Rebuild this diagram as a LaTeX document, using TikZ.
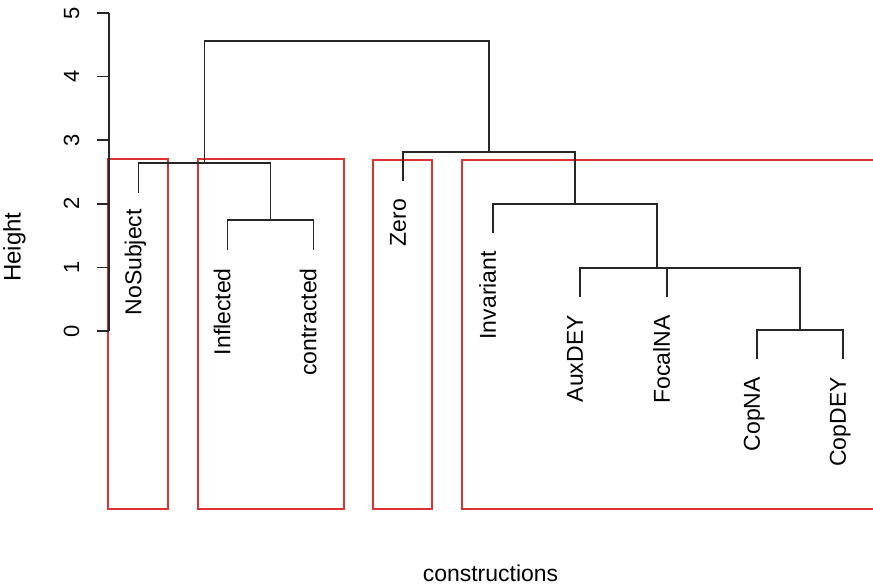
\documentclass[tikz,border=0pt]{standalone}
\usepackage{fontspec}
\setmainfont{Liberation Sans}
\begin{document}
\begin{tikzpicture}[x=1pt,y=-1pt,
  dend/.style={draw=black!85, line width=1.5pt},
  redbox/.style={draw={rgb,255:red,222;green,50;blue,50}, line width=1.5pt},
  leaflab/.style={rotate=90, anchor=east, inner sep=0pt, font=\fontsize{23}{23}\selectfont, text height=1.55ex, text depth=0.45ex},
  ticklab/.style={rotate=90, anchor=base, inner sep=0pt, font=\fontsize{22}{22}\selectfont},
  axlab/.style={inner sep=0pt, font=\fontsize{23}{23}\selectfont}]
\useasboundingbox (0,0) rectangle (873,587);
% red boxes
\draw[redbox] (108,159) rectangle (168,509);
\draw[redbox] (198,159) rectangle (344,509);
\draw[redbox] (373,160) rectangle (432,509);
\draw[redbox] (874,160) -- (462,160) -- (462,509) -- (874,509);
% axis
\draw[dend] (109,13) -- (109,331);
\foreach \h/\y in {0/331,1/267.4,2/203.8,3/140.2,4/76.6,5/13}{
  \draw[dend] (97,\y) -- (109,\y);
  \node[ticklab] (t\h) at (79,\y) {\h};
}
\node[axlab, rotate=90, anchor=base, font=\fontsize{24}{24}\selectfont] (ylab) at (20.5,247) {Height};
\node[axlab, anchor=base] (xlab) at (490.5,581) {constructions};
% leaves
\coordinate (lNo) at (138.5,193);
\coordinate (lInf) at (227.5,250);
\coordinate (lCon) at (313.5,250);
\coordinate (lZero) at (403,181);
\coordinate (lInv) at (493,233);
\coordinate (lAux) at (580,297);
\coordinate (lFoc) at (667,297);
\coordinate (lCNA) at (757,359);
\coordinate (lCDEY) at (843,359);
% merges
\coordinate (m1) at (270.5,220);
\coordinate (m2) at (204.5,163);
\coordinate (m3) at (800,330);
\coordinate (m3b) at (733.5,268);
\coordinate (m4) at (656.75,268);
\coordinate (m5) at (574.9,204);
\coordinate (m6) at (489,152);
\coordinate (m7) at (346.75,41);
\draw[dend] (lInf) |- (m1) -| (lCon);
\draw[dend] (lNo) |- (m2) -| (m1);
\draw[dend] (lCNA) |- (m3) -| (lCDEY);
\draw[dend] (lFoc) |- (m3b) -| (m3);
\draw[dend] (lAux) |- (m4) -| (m3b);
\draw[dend] (lInv) |- (m5) -| (m4);
\draw[dend] (lZero) |- (m6) -| (m5);
\draw[dend] (m2) |- (m7) -| (m6);
% leaf labels
\node[leaflab] (nNo) at ([yshift=-16pt]lNo) {NoSubject};
\node[leaflab] (nInf) at ([yshift=-18pt]lInf) {Inflected};
\node[leaflab] (nCon) at ([yshift=-18pt]lCon) {contracted};
\node[leaflab] (nZero) at ([yshift=-18pt]lZero) {Zero};
\node[leaflab] (nInv) at ([yshift=-18pt]lInv) {Invariant};
\node[leaflab] (nAux) at ([yshift=-18pt]lAux) {AuxDEY};
\node[leaflab] (nFoc) at ([yshift=-18pt]lFoc) {FocalNA};
\node[leaflab] (nCNA) at ([yshift=-18pt]lCNA) {CopNA};
\node[leaflab] (nCDEY) at ([yshift=-18pt]lCDEY) {CopDEY};
\end{tikzpicture}
\end{document}
